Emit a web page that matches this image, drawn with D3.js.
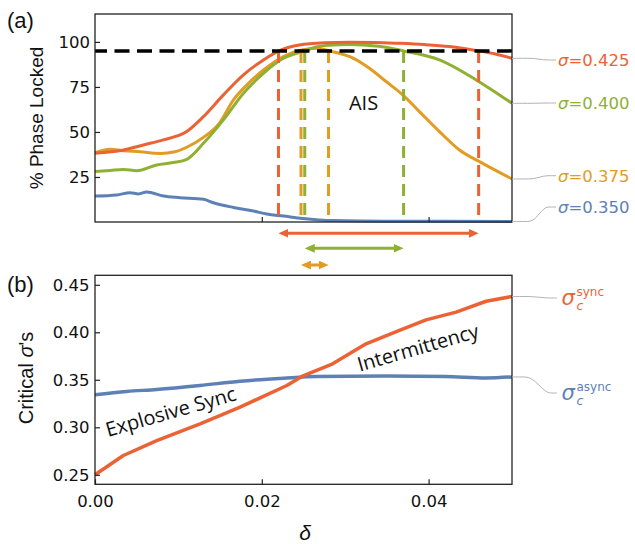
<!DOCTYPE html>
<html><head><meta charset="utf-8">
<script src="https://cdn.jsdelivr.net/npm/d3@7"></script>
<style>body{margin:0;background:#fff}svg{display:block}</style>
</head><body>
<svg id="chart" width="635" height="544"></svg>
<script>
// ---------- data ----------
const seriesNames = ["σ=0.425", "σ=0.400", "σ=0.375", "σ=0.350"];
const deltaRed = [0,0.0034,0.0058,0.0082,0.011,0.013,0.0154,0.0178,0.0202,0.0222,0.0245,0.0275,0.0305,0.0335,0.0365,0.0395,0.0425,0.046,0.048,0.05];
const lockedRed = [38.2,40,42.8,45.6,50.2,58.5,70.6,81.7,90,95.3,98.3,99.5,99.8,99.7,99.2,98.5,97.4,95,93.3,90.9];
const deltaGreen = [0,0.0018,0.0034,0.005,0.0074,0.0094,0.011,0.013,0.0154,0.0178,0.0202,0.0226,0.0249,0.0265,0.028,0.0305,0.034,0.037,0.0413,0.0457,0.05];
const lockedGreen = [28,28.6,29.2,28.5,31.7,33,34.8,43.7,56.7,71.5,82.6,90.9,94.7,97.2,98.2,98.5,97.6,95,90,78.9,65.9];
const deltaOrange = [0,0.0018,0.0034,0.0054,0.0078,0.0096,0.011,0.013,0.0149,0.0166,0.0182,0.0202,0.0226,0.0249,0.0266,0.0281,0.031,0.0329,0.0349,0.0369,0.0389,0.0413,0.0437,0.0461,0.05];
const lockedOrange = [38.5,40.4,39.6,39,38.1,39,41.5,47,54.8,67.8,76.1,84.4,91.9,95.6,96.5,95,90.9,85.4,78,70.6,61.3,50.2,40,33.5,23.9];
const deltaBlue = [0,0.0026,0.0042,0.0052,0.0062,0.0082,0.0102,0.013,0.0142,0.0166,0.019,0.0206,0.0226,0.0249,0.0285,0.035,0.042,0.05];
const lockedBlue = [14.4,15,16.3,15.6,16.7,14.4,13.5,12.6,10.7,8.1,6.1,4.4,3.3,2,0.8,0.4,0.4,0.3];
const threshold = 95;
const aisRed = [0.022, 0.046];
const aisGreen = [0.02515, 0.037];
const aisOrange = [0.0247, 0.028];

const deltaSync = [0,0.0034,0.0074,0.0126,0.0174,0.023,0.0248,0.0285,0.0325,0.0365,0.0397,0.0433,0.0469,0.05];
const sigmaSync = [0.25,0.2703,0.286,0.3037,0.3212,0.344,0.3535,0.3668,0.3879,0.4019,0.4131,0.4212,0.4327,0.4377];
const deltaAsync = [0,0.0038,0.0074,0.0126,0.0174,0.0226,0.0265,0.035,0.042,0.0469,0.05];
const sigmaAsync = [0.3342,0.3377,0.3398,0.344,0.3485,0.3517,0.3535,0.354,0.3535,0.352,0.353];

const yTicksA = [25, 50, 75, 100];
const yTicksB = [0.25, 0.30, 0.35, 0.40, 0.45];
const xTicks = [0, 0.02, 0.04];

// ---------- styles ----------
const C = {blue:"#5E81B5", orange:"#E19C24", green:"#8FB032", red:"#EB6235"};
const tickFont = "DejaVu Sans";
const titleFont = "Liberation Sans";
const annFont = "Open Sans";

const svg = d3.select("#chart");
const L = 95, R = 512;
const x = d3.scaleLinear().domain([0, 0.05]).range([L, R]);
const yA = d3.scaleLinear().domain([0, 115.5]).range([222, 14]);
const yB = d3.scaleLinear().domain([0.24, 0.46]).range([484.3, 275.3]);

function styleAxis(g){
  g.select(".domain").remove();
  g.selectAll(".tick line").attr("stroke","#222").attr("stroke-width",1.2);
  g.selectAll(".tick text").attr("font-family",tickFont).attr("font-size",16.5).attr("fill","#111");
}

// ================= Panel (a) =================
const gA = svg.append("g");
const lineA = d3.line().x(d=>x(d[0])).y(d=>yA(d[1])).curve(d3.curveMonotoneX);
const seriesA = [
  {d:deltaBlue, v:lockedBlue, c:C.blue, name:seriesNames[3], ly:213},
  {d:deltaOrange, v:lockedOrange, c:C.orange, name:seriesNames[2], ly:181.7},
  {d:deltaGreen, v:lockedGreen, c:C.green, name:seriesNames[1], ly:109},
  {d:deltaRed, v:lockedRed, c:C.red, name:seriesNames[0], ly:66}
];
seriesA.forEach(s=>{
  gA.append("path").datum(d3.zip(s.d, s.v)).attr("d", lineA)
    .attr("fill","none").attr("stroke",s.c).attr("stroke-width",3).attr("stroke-linejoin","round");
});

// AIS vertical dashed lines
[[aisRed,C.red],[aisOrange,C.orange],[aisGreen,C.green]].forEach(([b,c])=>{
  b.forEach(v=>{
    gA.append("line").attr("x1",x(v)).attr("x2",x(v)).attr("y1",yA(threshold)).attr("y2",yA(0))
      .attr("stroke",c).attr("stroke-width",3).attr("stroke-dasharray","12,7");
  });
});
// threshold line
gA.append("line").attr("x1",x(0)).attr("x2",x(0.05)).attr("y1",yA(threshold)).attr("y2",yA(threshold))
  .attr("stroke","#000").attr("stroke-width",3.5).attr("stroke-dasharray","15,7.5").attr("stroke-dashoffset",3);

// axes (a)
gA.append("g").attr("transform",`translate(${L},0)`)
  .call(d3.axisLeft(yA).tickValues(yTicksA).tickSize(-5).tickPadding(5).tickFormat(d3.format("d")))
  .call(styleAxis);
gA.append("g").attr("transform",`translate(0,${yA(0)})`)
  .call(d3.axisBottom(x).tickValues([0.02,0.04]).tickSize(-5).tickFormat(""))
  .call(styleAxis);
gA.append("rect").attr("x",L).attr("y",yA.range()[1]).attr("width",R-L).attr("height",yA.range()[0]-yA.range()[1])
  .attr("fill","none").attr("stroke","#222").attr("stroke-width",1.3);

gA.append("text").attr("x",x(0.0322)).attr("y",yA(62)).attr("text-anchor","middle")
  .attr("font-family",annFont).attr("font-size",20).attr("fill","#111").text("AIS");

// right labels (a)
const conn = d3.line().curve(d3.curveBasis);
seriesA.forEach(s=>{
  const y0 = yA(s.v[s.v.length-1]);
  const y1 = s.ly - 6;
  gA.append("path").attr("d", conn([[R,y0],[R+14,y0],[R+22,y0],[R+32,y1],[R+38,y1],[R+44,y1]]))
    .attr("fill","none").attr("stroke","#b3b3b3").attr("stroke-width",1);
  const t = gA.append("text").attr("x",R+46).attr("y",s.ly).attr("font-family",tickFont)
    .attr("font-size",16.5).attr("fill",s.c);
  t.append("tspan").attr("font-style","italic").text(s.name.slice(0,1));
  t.append("tspan").text(s.name.slice(1));
});

// y title (a)
svg.append("text").attr("transform","translate(43,118) rotate(-90)").attr("text-anchor","middle")
  .attr("font-family",titleFont).attr("font-size",19).attr("fill","#111").text("% Phase Locked");
svg.append("text").attr("x",7).attr("y",27.5).attr("font-family",titleFont).attr("font-size",22)
  .attr("fill","#111").text("(a)");

// arrows
const defs = svg.append("defs");
[["red",C.red],["green",C.green],["orange",C.orange]].forEach(([n,c])=>{
  defs.append("marker").attr("id","ah-"+n).attr("viewBox","0 0 10 9").attr("refX",5).attr("refY",4.5)
    .attr("markerWidth",10).attr("markerHeight",9).attr("markerUnits","userSpaceOnUse")
    .attr("orient","auto-start-reverse")
    .append("path").attr("d","M0,0 L10,4.5 L0,9 Z").attr("fill",c);
});
[[aisRed,"red",C.red,233.3],[aisGreen,"green",C.green,248.3],[aisOrange,"orange",C.orange,265]].forEach(([b,n,c,yy])=>{
  svg.append("line").attr("x1",x(b[0])+5).attr("x2",x(b[1])-5).attr("y1",yy).attr("y2",yy)
    .attr("stroke",c).attr("stroke-width",3)
    .attr("marker-start",`url(#ah-${n})`).attr("marker-end",`url(#ah-${n})`);
});

// ================= Panel (b) =================
const gB = svg.append("g");
const lineB = d3.line().x(d=>x(d[0])).y(d=>yB(d[1]));
gB.append("path").datum(d3.zip(deltaAsync, sigmaAsync)).attr("d", lineB.curve(d3.curveMonotoneX))
  .attr("fill","none").attr("stroke",C.blue).attr("stroke-width",3.5).attr("stroke-linejoin","round");
gB.append("path").datum(d3.zip(deltaSync, sigmaSync)).attr("d", lineB.curve(d3.curveLinear))
  .attr("fill","none").attr("stroke",C.red).attr("stroke-width",3.5).attr("stroke-linejoin","round");

gB.append("g").attr("transform",`translate(${L},0)`)
  .call(d3.axisLeft(yB).tickValues(yTicksB).tickSize(-5).tickPadding(5.5).tickFormat(d3.format(".2f")))
  .call(styleAxis);
gB.append("g").attr("transform",`translate(0,${yB(0.24)})`)
  .call(d3.axisBottom(x).tickValues(xTicks).tickSize(-5).tickPadding(11.3).tickFormat(d3.format(".2f")))
  .call(styleAxis);
gB.append("rect").attr("x",L).attr("y",yB.range()[1]).attr("width",R-L).attr("height",yB.range()[0]-yB.range()[1])
  .attr("fill","none").attr("stroke","#222").attr("stroke-width",1.3);

gB.append("text").attr("transform",`translate(${x(0.00155)},${yB(0.2898)}) rotate(-16)`)
  .attr("font-family",annFont).attr("font-size",20).attr("fill","#111").text("Explosive Sync");
gB.append("text").attr("transform",`translate(${x(0.03174)},${yB(0.3585)}) rotate(-16)`)
  .attr("font-family",annFont).attr("font-size",20).attr("fill","#111").text("Intermittency");

// right labels (b)
const labB = [
  {v:sigmaSync, c:C.red, sup:"sync", ly:305},
  {v:sigmaAsync, c:C.blue, sup:"async", ly:400}
];
labB.forEach(s=>{
  const y0 = yB(s.v[s.v.length-1]);
  const y1 = s.ly - 7;
  gB.append("path").attr("d", conn([[R,y0],[R+10,y0],[R+20,y0],[R+34,y1],[R+40,y1],[R+45,y1]]))
    .attr("fill","none").attr("stroke","#b3b3b3").attr("stroke-width",1);
  gB.append("text").attr("x",R+49.5).attr("y",s.ly).attr("font-family",tickFont).attr("font-style","italic")
    .attr("font-size",21).attr("fill",s.c).text("σ");
  gB.append("text").attr("x",R+64.5).attr("y",s.ly+5).attr("font-family",tickFont).attr("font-style","italic")
    .attr("font-size",12.5).attr("fill",s.c).text("c");
  gB.append("text").attr("x",R+64.5).attr("y",s.ly-9).attr("font-family",tickFont)
    .attr("font-size",12).attr("fill",s.c).text(s.sup);
});

const yt = svg.append("text").attr("transform","translate(33,378) rotate(-90)").attr("text-anchor","middle")
  .attr("font-family",titleFont).attr("font-size",20).attr("fill","#111");
yt.append("tspan").text("Critical ");
yt.append("tspan").attr("font-style","italic").text("σ");
yt.append("tspan").text("'s");
svg.append("text").attr("x",7).attr("y",292).attr("font-family",titleFont).attr("font-size",22)
  .attr("fill","#111").text("(b)");
svg.append("text").attr("x",305).attr("y",540).attr("text-anchor","middle").attr("font-family",titleFont)
  .attr("font-style","italic").attr("font-size",21).attr("fill","#111").text("δ");
</script>
</body></html>
